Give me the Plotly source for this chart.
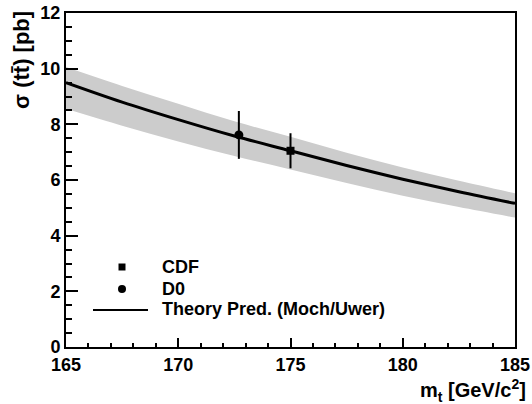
import plotly.graph_objects as go

# ---- data ----
mt_theory = [165, 167.5, 170, 172.5, 175, 177.5, 180, 182.5, 185]
sigma_theory = [9.50, 8.80, 8.17, 7.58, 7.05, 6.52, 6.03, 5.58, 5.16]
sigma_upper = [10.06, 9.38, 8.74, 8.11, 7.55, 6.98, 6.45, 5.97, 5.52]
sigma_lower = [8.56, 7.95, 7.38, 6.86, 6.38, 5.89, 5.43, 5.03, 4.65]

exp_names = ["CDF", "D0"]
exp_mt = [175.0, 172.7]
exp_sigma = [7.05, 7.62]
exp_err = [0.63, 0.86]
theory_label = "Theory Pred. (Moch/Uwer)"

x_ticks = [165, 170, 175, 180, 185]
y_ticks = [0, 2, 4, 6, 8, 10, 12]

FONT = "Liberation Sans, Arial, sans-serif"
W, H = 532, 404
L, R, T, B = 66, 17, 13, 57
PW, PH = W - L - R, H - T - B

fig = go.Figure()
# band
fig.add_trace(go.Scatter(x=mt_theory, y=sigma_lower, mode="lines",
                         line=dict(width=0, shape="spline", color="rgba(0,0,0,0)"),
                         hoverinfo="skip", showlegend=False))
fig.add_trace(go.Scatter(x=mt_theory, y=sigma_upper, mode="lines",
                         fill="tonexty", fillcolor="rgb(204,204,204)",
                         line=dict(width=0, shape="spline", color="rgba(0,0,0,0)"),
                         hoverinfo="skip", showlegend=False))
fig.add_trace(go.Scatter(x=mt_theory, y=sigma_theory, mode="lines",
                         line=dict(color="black", width=3, shape="spline"),
                         showlegend=False))
symbols = ["square", "circle"]
sizes = [8, 9]
for i in range(2):
    fig.add_trace(go.Scatter(x=[exp_mt[i]], y=[exp_sigma[i]], mode="markers",
                             marker=dict(symbol=symbols[i], size=sizes[i], color="black"),
                             error_y=dict(type="data", array=[exp_err[i]], color="black",
                                          thickness=2, width=0),
                             showlegend=False))

def px(xp):
    return (xp - L) / PW

def py(yp):
    return (H - B - yp) / PH

shapes = []
# legend symbols
shapes.append(dict(type="rect", xref="paper", yref="paper",
                   x0=px(118.5), x1=px(125.5), y0=py(270.5), y1=py(263.5),
                   fillcolor="black", line=dict(width=0)))
shapes.append(dict(type="circle", xref="paper", yref="paper",
                   x0=px(118), x1=px(126), y0=py(293), y1=py(285),
                   fillcolor="black", line=dict(width=0)))
shapes.append(dict(type="line", xref="paper", yref="paper",
                   x0=px(93), x1=px(148), y0=py(310), y1=py(310),
                   line=dict(color="black", width=2)))

annotations = []
for lbl, yy in zip(exp_names + [theory_label], [267, 289, 309]):
    annotations.append(dict(text="<b>" + lbl + "</b>", xref="paper", yref="paper",
                            x=px(160), y=py(yy),
                            xanchor="left", yanchor="middle", showarrow=False,
                            font=dict(family=FONT, size=18, color="black")))
annotations.append(dict(text="<b>m<sub>t</sub> [GeV/c<sup>2</sup>]</b>", xref="paper", yref="paper",
                        x=px(528), y=py(390), xanchor="right", yanchor="middle",
                        showarrow=False, font=dict(family=FONT, size=20, color="black")))
annotations.append(dict(text="<b>\u03c3 (tt\u0304) [pb]</b>", xref="paper", yref="paper",
                        x=px(22), y=py(9), xanchor="center", yanchor="top",
                        textangle=-90, showarrow=False,
                        font=dict(family=FONT, size=22, color="black")))

fig.update_layout(
    width=W, height=H, margin=dict(l=L, r=R, t=T, b=B),
    paper_bgcolor="white", plot_bgcolor="white",
    shapes=shapes, annotations=annotations, showlegend=False,
    font=dict(family=FONT, size=18, color="black"),
    xaxis=dict(range=[165, 185], tickvals=x_ticks,
               ticktext=["<b>%d</b>" % v for v in x_ticks],
               ticks="inside", ticklen=9, tickwidth=1.5, tickcolor="black",
               minor=dict(ticks="inside", ticklen=4.5, tickwidth=1.5, tickcolor="black", dtick=1),
               showgrid=False, zeroline=False, showline=True, linecolor="black", linewidth=2,
               mirror=True, automargin=False),
    yaxis=dict(range=[0, 12], tickvals=y_ticks,
               ticktext=["<b>%d</b>" % v for v in y_ticks],
               ticks="inside", ticklen=12, tickwidth=1.5, tickcolor="black",
               minor=dict(ticks="inside", ticklen=6, tickwidth=1.5, tickcolor="black", dtick=0.5),
               showgrid=False, zeroline=False, showline=True, linecolor="black", linewidth=2,
               mirror=True, automargin=False),
)
fig.write_html("out.html")
